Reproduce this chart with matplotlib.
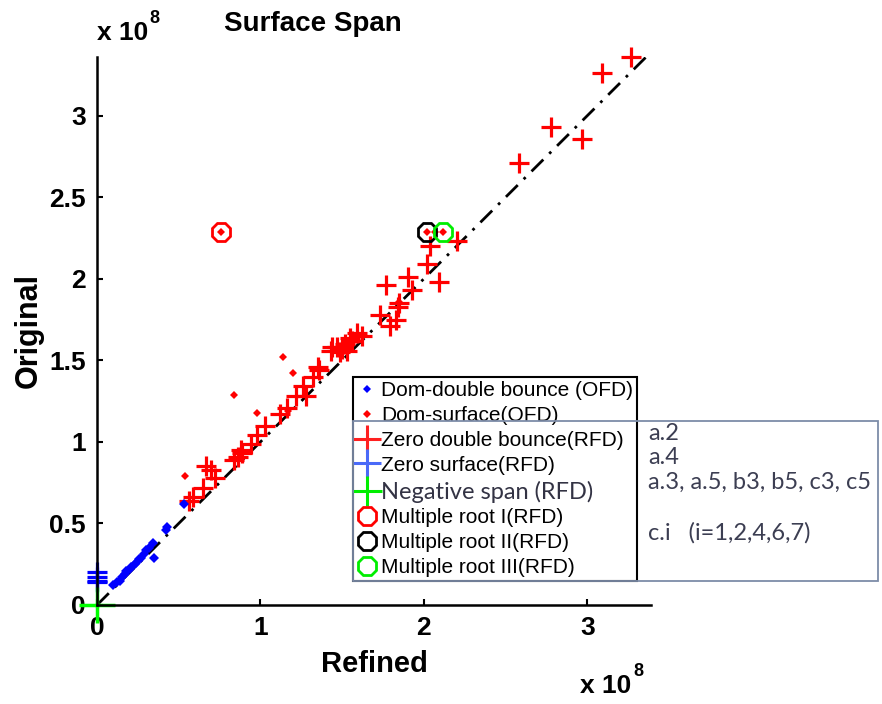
import matplotlib
matplotlib.use('Agg')
import matplotlib.pyplot as plt
from matplotlib.lines import Line2D
from matplotlib.patches import Rectangle

# all values in units of 1e8
# Dom-double bounce (OFD), blue diamonds
dom_db_x = [0.10, 0.12, 0.14, 0.15, 0.17, 0.18, 0.20, 0.21, 0.23, 0.24, 0.26, 0.27,
            0.29, 0.30, 0.32, 0.34, 0.35, 0.42, 0.43, 0.53]
dom_db_y = [0.12, 0.14, 0.15, 0.17, 0.19, 0.21, 0.22, 0.23, 0.25, 0.26, 0.28, 0.29,
            0.31, 0.34, 0.35, 0.38, 0.29, 0.46, 0.48, 0.62]
# Dom-surface (OFD), red diamonds
dom_s_x = [1.14, 1.20, 0.84, 0.98, 0.54, 0.76, 2.02, 2.12, 1.17, 0.88, 1.50, 1.85, 2.07]
dom_s_y = [1.52, 1.42, 1.29, 1.18, 0.79, 2.29, 2.29, 2.29, 1.19, 0.93, 1.56, 1.86, 2.29]
# Zero double bounce (RFD), red plus
zdb_x = [3.27, 3.09, 2.78, 2.97, 2.58, 2.20, 2.04, 2.02, 2.09, 1.90, 1.77, 1.93,
         1.85, 1.73, 1.83, 1.79, 1.84, 1.59, 1.55, 1.47, 1.49, 1.43, 1.53, 1.50,
         1.52, 1.56, 1.62, 1.35, 1.32, 1.26, 1.22, 1.16, 1.12, 1.28, 1.36, 1.44,
         1.03, 0.98, 0.94, 0.88, 0.86, 0.89, 0.84, 0.67, 0.70, 0.72, 0.65, 0.59, 0.56]
zdb_y = [3.36, 3.26, 2.93, 2.86, 2.71, 2.23, 2.20, 2.09, 1.98, 2.01, 1.96, 1.93,
         1.85, 1.78, 1.75, 1.71, 1.83, 1.67, 1.64, 1.58, 1.55, 1.56, 1.56, 1.57,
         1.60, 1.62, 1.65, 1.46, 1.40, 1.34, 1.28, 1.21, 1.17, 1.28, 1.44, 1.58,
         1.10, 1.04, 0.99, 0.95, 0.91, 0.93, 0.89, 0.85, 0.83, 0.78, 0.72, 0.66, 0.64]
# Zero surface (RFD), blue plus
zs_x = [0.0, 0.0, 0.0, 0.0]
zs_y = [0.20, 0.17, 0.15, 0.14]
# Negative span (RFD), green plus
neg_x = [0.0]
neg_y = [0.0]
# Multiple roots
mr1_x, mr1_y = [0.76], [2.29]
mr2_x, mr2_y = [2.02], [2.29]
mr3_x, mr3_y = [2.12], [2.29]

x_max, y_max = 3.39, 3.36
xticks = [0, 1, 2, 3]
yticks = [0, 0.5, 1, 1.5, 2, 2.5, 3]

labels = ['Dom-double bounce (OFD)', 'Dom-surface(OFD)', 'Zero double bounce(RFD)',
          'Zero surface(RFD)', 'Negative span (RFD)', 'Multiple root I(RFD)',
          'Multiple root II(RFD)', 'Multiple root III(RFD)']
notes = ['a.2', 'a.4', 'a.3, a.5, b3, b5, c3, c5', 'c.i   (i=1,2,4,6,7)']

plt.rcParams['font.family'] = ['Liberation Sans', 'DejaVu Sans']

W, H = 882, 704
fig = plt.figure(figsize=(W / 100, H / 100), dpi=100)
ax = fig.add_axes([97 / W, 1 - 605 / H, 554 / W, 548 / H])

ax.plot([0, x_max], [0, x_max], color='black', lw=2, linestyle=(0, (6, 3, 1, 3)), zorder=1)

ax.plot(dom_db_x, dom_db_y, 'D', color='blue', ms=5, mew=0, clip_on=False, zorder=3)
ax.plot(zdb_x, zdb_y, '+', color='red', ms=15, mew=2.3, clip_on=False, zorder=2)
ax.plot(dom_s_x, dom_s_y, 'D', color='red', ms=4.5, mew=0, clip_on=False, zorder=3)
ax.plot(zs_x, zs_y, '+', color='blue', ms=15, mew=2.3, clip_on=False, zorder=2)
ax.plot(neg_x, neg_y, '+', color='#00ff00', ms=26, mew=2.5, clip_on=False, zorder=2)
ax.plot(mr1_x, mr1_y, '8', mfc='none', mec='red', ms=14, mew=2, clip_on=False, zorder=4)
ax.plot(mr2_x, mr2_y, '8', mfc='none', mec='black', ms=14, mew=2, clip_on=False, zorder=4)
ax.plot(mr3_x, mr3_y, '8', mfc='none', mec='#00ee00', ms=14, mew=2, clip_on=False, zorder=4)

ax.set_xlim(0, x_max)
ax.set_ylim(0, y_max)
ax.set_xticks(xticks)
ax.set_yticks(yticks)
ax.set_xticklabels([f'{t:g}' for t in xticks])
ax.set_yticklabels([f'{t:g}' for t in yticks])
for s in ['top', 'right']:
    ax.spines[s].set_visible(False)
for s in ['left', 'bottom']:
    ax.spines[s].set_linewidth(1.8)
ax.tick_params(direction='in', length=4, width=1.5, labelsize=19, pad=8)
for t in ax.get_xticklabels() + ax.get_yticklabels():
    t.set_fontweight('bold')

ax.set_xlabel('Refined', fontsize=21, fontweight='bold', labelpad=7)
ax.set_ylabel('Original', fontsize=22, fontweight='bold', labelpad=4)
fig.text(313 / W, 1 - 24 / H, 'Surface Span', fontsize=20, fontweight='bold',
         ha='center', va='center')

# x 10^8 multipliers
fig.text(97 / W, 1 - 40 / H, 'x 10', fontsize=19, fontweight='bold', ha='left', va='baseline')
fig.text(149 / W, 1 - 23 / H, '8', fontsize=13, fontweight='bold', ha='left', va='baseline')
fig.text(580 / W, 1 - 693 / H, 'x 10', fontsize=19, fontweight='bold', ha='left', va='baseline')
fig.text(633 / W, 1 - 676 / H, '8', fontsize=13, fontweight='bold', ha='left', va='baseline')

# legend
handles = [
    Line2D([], [], marker='D', color='blue', ls='none', ms=4, mew=0),
    Line2D([], [], marker='D', color='red', ls='none', ms=4, mew=0),
    Line2D([], [], marker='+', color='#ff2020', ls='none', ms=20, mew=2.2),
    Line2D([], [], marker='+', color='#4a6af8', ls='none', ms=20, mew=2.2),
    Line2D([], [], marker='+', color='#00ee00', ls='none', ms=22, mew=2.2),
    Line2D([], [], marker='8', mfc='none', mec='red', ls='none', ms=14, mew=2),
    Line2D([], [], marker='8', mfc='none', mec='black', ls='none', ms=14, mew=2),
    Line2D([], [], marker='8', mfc='none', mec='#00ee00', ls='none', ms=14, mew=2),
]
leg = ax.legend(handles, labels, loc='upper left', bbox_to_anchor=(353 / W, 1 - 377 / H),
                bbox_transform=fig.transFigure, borderaxespad=0, fontsize=15,
                labelspacing=0.28, handlelength=0.9, handletextpad=0.25, borderpad=0.2,
                fancybox=False, framealpha=1, edgecolor='black')
leg.get_frame().set_linewidth(1.5)
neg_txt = leg.get_texts()[4]
neg_txt.set_fontfamily(['Lato', 'DejaVu Sans'])
neg_txt.set_color('#333344')
neg_txt.set_fontsize(17)

fig.add_artist(Rectangle((353 / W, 1 - 581 / H), (878 - 353) / W, (581 - 421) / H,
                         transform=fig.transFigure, fill=False, ec='#7d8ca8', lw=1.3))
for note, py in zip(notes, [434, 458, 482, 533]):
    fig.text(648 / W, 1 - py / H, note, fontsize=17, color='#3c3e52',
             family=['Lato', 'DejaVu Sans'], ha='left', va='center')

fig.savefig('out.png', dpi=100)
